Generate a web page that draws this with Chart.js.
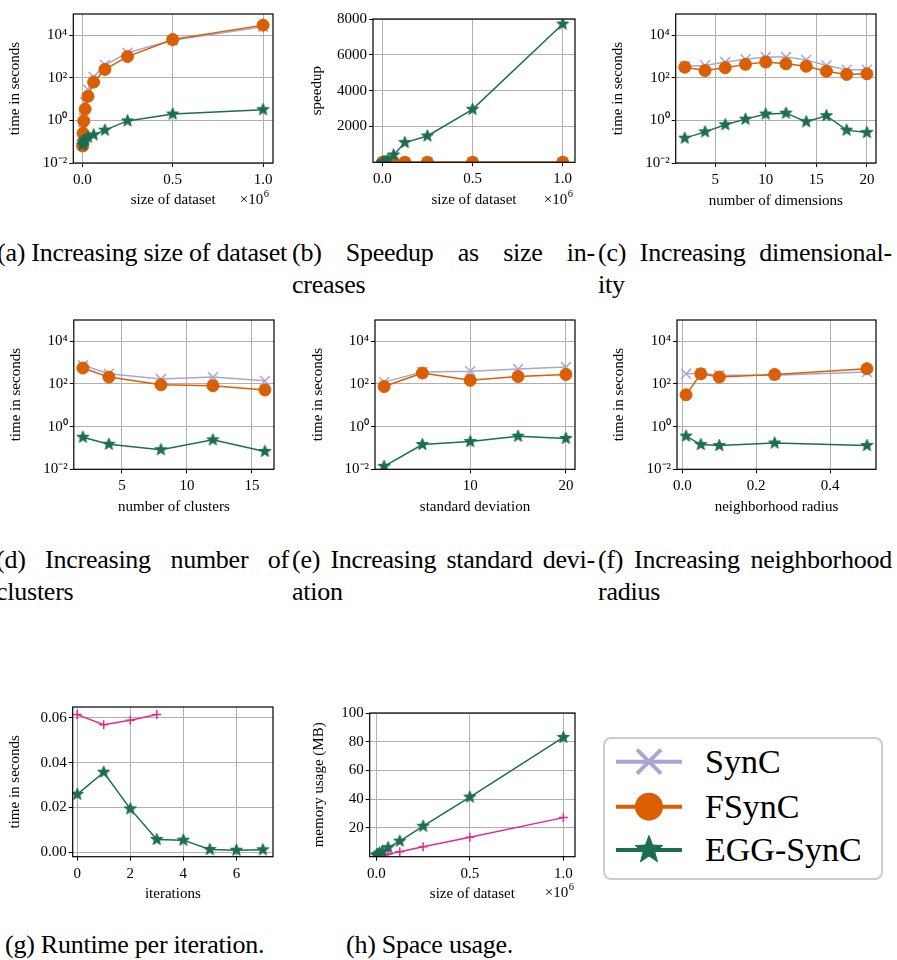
<!DOCTYPE html>
<html><head><meta charset="utf-8">
<script src="https://cdn.jsdelivr.net/npm/chart.js@4.4.1/dist/chart.umd.min.js"></script>
<style>
body{margin:0;background:#fff;}
#page{position:relative;width:897px;height:960px;overflow:hidden;font-family:"Liberation Serif","Times New Roman",serif;color:#000;background:#fff;}
canvas.panel{position:absolute;}
.cap{position:absolute;font-size:26px;line-height:32px;letter-spacing:-0.25px;}
.just{text-align:justify;text-align-last:justify;}
.nw{white-space:nowrap;}
#legend{position:absolute;left:603px;top:737px;width:276px;height:139px;border:2px solid #cccccc;border-radius:8px;background:#fff;}
#legend span{position:absolute;left:100px;font-size:34px;line-height:40px;white-space:nowrap;}
</style></head>
<body><div id="page">
<canvas class="panel" id="pa"></canvas>
<canvas class="panel" id="pb"></canvas>
<canvas class="panel" id="pc"></canvas>
<canvas class="panel" id="pd"></canvas>
<canvas class="panel" id="pe"></canvas>
<canvas class="panel" id="pf"></canvas>
<canvas class="panel" id="pg"></canvas>
<canvas class="panel" id="ph"></canvas>

<div class="cap nw" style="left:-3px;top:237px;">(a) Increasing size of dataset</div>
<div class="cap just" style="left:292px;top:237px;width:303px;">(b) Speedup as size in-</div>
<div class="cap nw" style="left:292px;top:269px;">creases</div>
<div class="cap just" style="left:598px;top:237px;width:294px;">(c) Increasing dimensional-</div>
<div class="cap nw" style="left:598px;top:269px;">ity</div>

<div class="cap just" style="left:-4px;top:544px;width:293px;">(d) Increasing number of</div>
<div class="cap nw" style="left:-4px;top:576px;">clusters</div>
<div class="cap just" style="left:292px;top:544px;width:303px;">(e) Increasing standard devi-</div>
<div class="cap nw" style="left:292px;top:576px;">ation</div>
<div class="cap just" style="left:598px;top:544px;width:294px;">(f) Increasing neighborhood</div>
<div class="cap nw" style="left:598px;top:576px;">radius</div>

<div class="cap nw" style="left:5px;top:929px;">(g) Runtime per iteration.</div>
<div class="cap nw" style="left:346px;top:929px;">(h) Space usage.</div>

<div id="legend">
  <canvas id="legendMarks" width="90" height="139" style="position:absolute;left:0;top:0;"></canvas>
  <span style="top:3px;">SynC</span>
  <span style="top:48px;">FSynC</span>
  <span style="top:91px;">EGG-SynC</span>
</div>
</div>
<script>
// ---------------- data ----------------
const seriesNames = ['SynC', 'FSynC', 'EGG-SynC'];

const sizeX        = [1953, 3906, 7812, 15625, 31250, 62500, 125000, 250000, 500000, 1000000];
const sizeSynC     = [0.08, 0.35, 1.3, 7, 28, 110, 400, 1500, 5900, 25000];
const sizeFSynC    = [0.063, 0.25, 0.95, 3.4, 13.5, 63, 250, 1000, 6300, 30000];
const sizeEGG      = [0.07, 0.09, 0.11, 0.13, 0.16, 0.21, 0.35, 0.95, 2.0, 3.2];

const speedupSynC  = [1, 1, 1, 1, 1, 1, 1, 1, 1, 1];
const speedupFSynC = [1.3, 1.4, 1.4, 2.0, 2.1, 1.75, 1.6, 1.5, 0.94, 0.83];
const speedupEGG   = [1, 4, 12, 50, 150, 410, 1100, 1470, 2960, 7720];

const dimX         = [2, 4, 6, 8, 10, 12, 14, 16, 18, 20];
const dimSynC      = [350, 380, 550, 740, 950, 950, 700, 380, 240, 240];
const dimFSynC     = [316, 220, 300, 430, 550, 460, 350, 205, 145, 155];
const dimEGG       = [0.147, 0.29, 0.63, 1.15, 2.0, 2.2, 0.87, 1.66, 0.35, 0.27];

const clusterX     = [2, 4, 8, 12, 16];
const clusterSynC  = [750, 300, 170, 210, 140];
const clusterFSynC = [560, 210, 91, 83, 52];
const clusterEGG   = [0.32, 0.15, 0.083, 0.24, 0.069];

const stdX         = [1, 5, 10, 15, 20];
const stdSynC      = [122, 364, 400, 500, 620];
const stdFSynC     = [76, 325, 148, 223, 282];
const stdEGG       = [0.0138, 0.145, 0.2, 0.355, 0.28];

const radiusX      = [0.01, 0.05, 0.1, 0.25, 0.5];
const radiusSynC   = [300, 320, 260, 260, 360];
const radiusFSynC  = [31, 300, 210, 280, 520];
const radiusEGG    = [0.36, 0.145, 0.13, 0.17, 0.13];

const iterSynCX    = [0, 1, 2, 3];
const iterSynC     = [0.0615, 0.057, 0.059, 0.0615];
const iterEGGX     = [0, 1, 2, 3, 4, 5, 6, 7];
const iterEGG      = [0.0258, 0.0357, 0.0193, 0.0056, 0.0053, 0.0011, 0.0008, 0.001];

const memSynC      = [0.05, 0.1, 0.2, 0.45, 0.9, 1.8, 3.5, 6.9, 13.6, 27.2];
const memEGG       = [0.9, 1.2, 1.6, 2.6, 3.8, 6.3, 10.8, 21.2, 41.5, 83];

// tick values / labels
const logTicks = [0.01, 1, 100, 10000];
const logTickLabels = ['10\u207B\u00B2', '10\u2070', '10\u00B2', '10\u2074'];
const sizeTicks = [0, 500000, 1000000];
const sizeTickLabels = ['0.0', '0.5', '1.0'];
const speedupTicks = [2000, 4000, 6000, 8000];
const speedupTickLabels = ['2000', '4000', '6000', '8000'];
const dimTicks = [5, 10, 15, 20];
const dimTickLabels = ['5', '10', '15', '20'];
const clusterTicks = [5, 10, 15];
const clusterTickLabels = ['5', '10', '15'];
const stdTicks = [10, 20];
const stdTickLabels = ['10', '20'];
const radiusTicks = [0, 0.2, 0.4];
const radiusTickLabels = ['0.0', '0.2', '0.4'];
const iterTicks = [0, 2, 4, 6];
const iterTickLabels = ['0', '2', '4', '6'];
const iterTimeTicks = [0, 0.02, 0.04, 0.06];
const iterTimeTickLabels = ['0.00', '0.02', '0.04', '0.06'];
const memTicks = [20, 40, 60, 80, 100];
const memTickLabels = ['20', '40', '60', '80', '100'];

// ---------------- styles ----------------
const COL_SYNC = '#a9a5d4';
const COL_FSYNC = '#d95f02';
const COL_EGG = '#1b6e50';
const COL_PINK = '#e7298a';
const FONT = '"Liberation Serif", "Times New Roman", serif';

function makeStar(size, rOuter, color) {
  const c = document.createElement('canvas');
  c.width = size; c.height = size;
  const g = c.getContext('2d');
  const cx = size / 2, cy = size / 2;
  g.beginPath();
  for (let i = 0; i < 10; i++) {
    const r = (i % 2) ? rOuter * 0.42 : rOuter;
    const a = -Math.PI / 2 + i * Math.PI / 5;
    g.lineTo(cx + r * Math.cos(a), cy + r * Math.sin(a));
  }
  g.closePath();
  g.fillStyle = color; g.fill();
  g.lineJoin = 'round'; g.lineWidth = 1; g.strokeStyle = color; g.stroke();
  return c;
}
const starImg = makeStar(15, 6.3, COL_EGG);

const zip = (xs, ys) => ys.map((y, i) => ({x: xs[i], y: y}));

function dsSynC(xs, ys) {
  return {label: seriesNames[0], data: zip(xs, ys), borderColor: COL_SYNC, backgroundColor: COL_SYNC,
    borderWidth: 1.5, pointStyle: 'crossRot', pointRadius: 7, pointBorderWidth: 1.5,
    pointBorderColor: COL_SYNC, order: 3, clip: 0, tension: 0};
}
function dsFSynC(xs, ys) {
  return {label: seriesNames[1], data: zip(xs, ys), borderColor: COL_FSYNC, backgroundColor: COL_FSYNC,
    borderWidth: 1.5, pointStyle: 'circle', pointRadius: 6, pointBorderWidth: 1,
    pointBackgroundColor: COL_FSYNC, pointBorderColor: COL_FSYNC, order: 2, clip: 0, tension: 0};
}
function dsEGG(xs, ys) {
  return {label: seriesNames[2], data: zip(xs, ys), borderColor: COL_EGG, backgroundColor: COL_EGG,
    borderWidth: 1.5, pointStyle: starImg, pointRadius: 6, order: 1, clip: 0, tension: 0};
}
function dsPink(xs, ys) {
  return {label: seriesNames[0], data: zip(xs, ys), borderColor: COL_PINK, backgroundColor: COL_PINK,
    borderWidth: 1.5, pointStyle: 'cross', pointRadius: 4.5, pointBorderWidth: 1.5,
    pointBorderColor: COL_PINK, order: 2, clip: 0, tension: 0};
}

// plugins
const framePlugin = {
  id: 'frame',
  afterDatasetsDraw(chart) {
    const ca = chart.chartArea, ctx = chart.ctx;
    ctx.save();
    ctx.strokeStyle = '#000'; ctx.lineWidth = 1.2;
    ctx.strokeRect(ca.left, ca.top, ca.right - ca.left, ca.bottom - ca.top);
    ctx.restore();
  }
};
const offsetPlugin = {
  id: 'offsetLabel',
  afterDraw(chart, args, opts) {
    if (!opts || !opts.show) return;
    const ca = chart.chartArea, ctx = chart.ctx;
    ctx.save();
    ctx.fillStyle = '#000'; ctx.textBaseline = 'middle'; ctx.textAlign = 'right';
    const xr = ca.right + opts.dx, y = ca.bottom + opts.dy;
    ctx.font = '10.5px ' + FONT;
    ctx.fillText(opts.exp, xr, y - 6);
    const w = ctx.measureText(opts.exp).width;
    ctx.font = '15px ' + FONT;
    ctx.fillText(opts.base, xr - w - 0.5, y);
    ctx.restore();
  }
};

function makePanel(id, g) {
  const cl = g.yTitleX - 9, ct = g.T - 14, cr = g.R + 24, cb = g.xTitleY + 9;
  const cv = document.getElementById(id);
  cv.width = Math.round(cr - cl); cv.height = Math.round(cb - ct);
  cv.style.left = cl + 'px'; cv.style.top = ct + 'px';
  cv.style.width = cv.width + 'px'; cv.style.height = cv.height + 'px';
  const tickFont = {family: FONT, size: 15, lineHeight: 1.2};
  const gridOpts = {color: '#b0b0b0', lineWidth: 1, tickColor: '#000', tickLength: 4, tickWidth: 1, drawTicks: true};
  const zeroPad = s => { s.paddingLeft = 0; s.paddingRight = 0; s.paddingTop = 0; s.paddingBottom = 0; };
  new Chart(cv, {
    type: 'line',
    data: {datasets: g.datasets},
    options: {
      animation: false, responsive: false, maintainAspectRatio: false,
      devicePixelRatio: 1,
      layout: {padding: {left: 0, top: g.T - ct, right: cr - g.R, bottom: 0}},
      plugins: {legend: {display: false}, tooltip: {enabled: false},
        offsetLabel: g.offset || {show: false}},
      scales: {
        x: {
          type: 'linear', position: 'bottom', min: g.xmin, max: g.xmax,
          afterBuildTicks: s => { s.ticks = g.xt.map(v => ({value: v})); },
          afterFit: s => { s.height = cb - g.B; zeroPad(s); },
          ticks: {callback: (v, i) => g.xl[i], font: tickFont, color: '#000', padding: 4,
            maxRotation: 0, minRotation: 0, autoSkip: false, includeBounds: false},
          grid: gridOpts, border: {display: false},
          title: {display: true, text: g.xTitle, font: {family: FONT, size: 15, lineHeight: 1.2}, color: '#000', padding: 0}
        },
        y: {
          type: g.ylog ? 'logarithmic' : 'linear', position: 'left', min: g.ymin, max: g.ymax,
          afterBuildTicks: s => { s.ticks = g.yt.map(v => ({value: v})); },
          afterFit: s => { s.width = g.L - cl; zeroPad(s); },
          ticks: {callback: (v, i) => g.yl[i], font: tickFont, color: '#000', padding: 2,
            autoSkip: false, includeBounds: false},
          grid: gridOpts, border: {display: false},
          title: {display: true, text: g.yTitle, font: {family: FONT, size: 15, lineHeight: 1.2}, color: '#000', padding: 0}
        }
      }
    },
    plugins: [framePlugin, offsetPlugin]
  });
}

const X6 = {show: true, base: '\u00D710', exp: '6'};

makePanel('pa', {L: 73.3, T: 14, R: 273.3, B: 163, yTitleX: 15, xTitleY: 200,
  xmin: -50000, xmax: 1055000, ymin: 0.01, ymax: 100000, ylog: true,
  xt: sizeTicks, xl: sizeTickLabels, yt: logTicks, yl: logTickLabels,
  xTitle: 'size of dataset', yTitle: 'time in seconds',
  offset: Object.assign({dx: -4, dy: 37}, X6),
  datasets: [dsSynC(sizeX, sizeSynC), dsFSynC(sizeX, sizeFSynC), dsEGG(sizeX, sizeEGG)]});

makePanel('pb', {L: 372.7, T: 19, R: 575, B: 162.3, yTitleX: 316.7, xTitleY: 200,
  xmin: -51600, xmax: 1068000, ymin: 0, ymax: 8000, ylog: false,
  xt: sizeTicks, xl: sizeTickLabels, yt: speedupTicks, yl: speedupTickLabels,
  xTitle: 'size of dataset', yTitle: 'speedup',
  offset: Object.assign({dx: -2, dy: 37.7}, X6),
  datasets: [dsSynC(sizeX, speedupSynC), dsFSynC(sizeX, speedupFSynC), dsEGG(sizeX, speedupEGG)]});

makePanel('pc', {L: 676, T: 14, R: 876.7, B: 163, yTitleX: 618.3, xTitleY: 201,
  xmin: 1.1, xmax: 20.9, ymin: 0.01, ymax: 100000, ylog: true,
  xt: dimTicks, xl: dimTickLabels, yt: logTicks, yl: logTickLabels,
  xTitle: 'number of dimensions', yTitle: 'time in seconds',
  datasets: [dsSynC(dimX, dimSynC), dsFSynC(dimX, dimFSynC), dsEGG(dimX, dimEGG)]});

makePanel('pd', {L: 73.3, T: 320, R: 273.3, B: 469, yTitleX: 15.5, xTitleY: 506.7,
  xmin: 1.3, xmax: 16.7, ymin: 0.01, ymax: 100000, ylog: true,
  xt: clusterTicks, xl: clusterTickLabels, yt: logTicks, yl: logTickLabels,
  xTitle: 'number of clusters', yTitle: 'time in seconds',
  datasets: [dsSynC(clusterX, clusterSynC), dsFSynC(clusterX, clusterFSynC), dsEGG(clusterX, clusterEGG)]});

makePanel('pe', {L: 375.3, T: 320, R: 575, B: 469, yTitleX: 318.3, xTitleY: 506.7,
  xmin: 0.05, xmax: 20.95, ymin: 0.01, ymax: 100000, ylog: true,
  xt: stdTicks, xl: stdTickLabels, yt: logTicks, yl: logTickLabels,
  xTitle: 'standard deviation', yTitle: 'time in seconds',
  datasets: [dsSynC(stdX, stdSynC), dsFSynC(stdX, stdFSynC), dsEGG(stdX, stdEGG)]});

makePanel('pf', {L: 677.3, T: 320, R: 876, B: 469, yTitleX: 619.3, xTitleY: 506.7,
  xmin: -0.0145, xmax: 0.5245, ymin: 0.01, ymax: 100000, ylog: true,
  xt: radiusTicks, xl: radiusTickLabels, yt: logTicks, yl: logTickLabels,
  xTitle: 'neighborhood radius', yTitle: 'time in seconds',
  datasets: [dsSynC(radiusX, radiusSynC), dsFSynC(radiusX, radiusFSynC), dsEGG(radiusX, radiusEGG)]});

makePanel('pg', {L: 72.7, T: 707.3, R: 273.3, B: 856.7, yTitleX: 15, xTitleY: 894,
  xmin: -0.17, xmax: 7.38, ymin: -0.0021, ymax: 0.0649, ylog: false,
  xt: iterTicks, xl: iterTickLabels, yt: iterTimeTicks, yl: iterTimeTickLabels,
  xTitle: 'iterations', yTitle: 'time in seconds',
  datasets: [dsPink(iterSynCX, iterSynC), dsEGG(iterEGGX, iterEGG)]});

makePanel('ph', {L: 370, T: 713.3, R: 575, B: 856.7, yTitleX: 319.3, xTitleY: 894,
  xmin: -36000, xmax: 1062500, ymin: 0, ymax: 100, ylog: false,
  xt: sizeTicks, xl: sizeTickLabels, yt: memTicks, yl: memTickLabels,
  xTitle: 'size of dataset', yTitle: 'memory usage (MB)',
  offset: Object.assign({dx: -1, dy: 36.3}, X6),
  datasets: [dsPink(sizeX, memSynC), dsEGG(sizeX, memEGG)]});

// ---------------- legend marks ----------------
(function () {
  const c = document.getElementById('legendMarks');
  const g = c.getContext('2d');
  const x0 = 11, x1 = 77, xm = 44;
  const rows = [22.7, 67.7, 111];
  g.lineCap = 'butt';
  // SynC
  g.strokeStyle = COL_SYNC; g.lineWidth = 4;
  g.beginPath(); g.moveTo(x0, rows[0]); g.lineTo(x1, rows[0]); g.stroke();
  g.beginPath(); g.moveTo(xm - 12, rows[0] - 12); g.lineTo(xm + 12, rows[0] + 12);
  g.moveTo(xm - 12, rows[0] + 12); g.lineTo(xm + 12, rows[0] - 12); g.stroke();
  // FSynC
  g.strokeStyle = COL_FSYNC; g.fillStyle = COL_FSYNC;
  g.beginPath(); g.moveTo(x0, rows[1]); g.lineTo(x1, rows[1]); g.stroke();
  g.beginPath(); g.arc(xm, rows[1], 14, 0, Math.PI * 2); g.fill();
  // EGG-SynC
  g.strokeStyle = COL_EGG; g.fillStyle = COL_EGG;
  g.beginPath(); g.moveTo(x0, rows[2]); g.lineTo(x1, rows[2]); g.stroke();
  g.drawImage(makeStar(34, 14.5, COL_EGG), xm - 17, rows[2] - 17);
})();
</script>
</body></html>
